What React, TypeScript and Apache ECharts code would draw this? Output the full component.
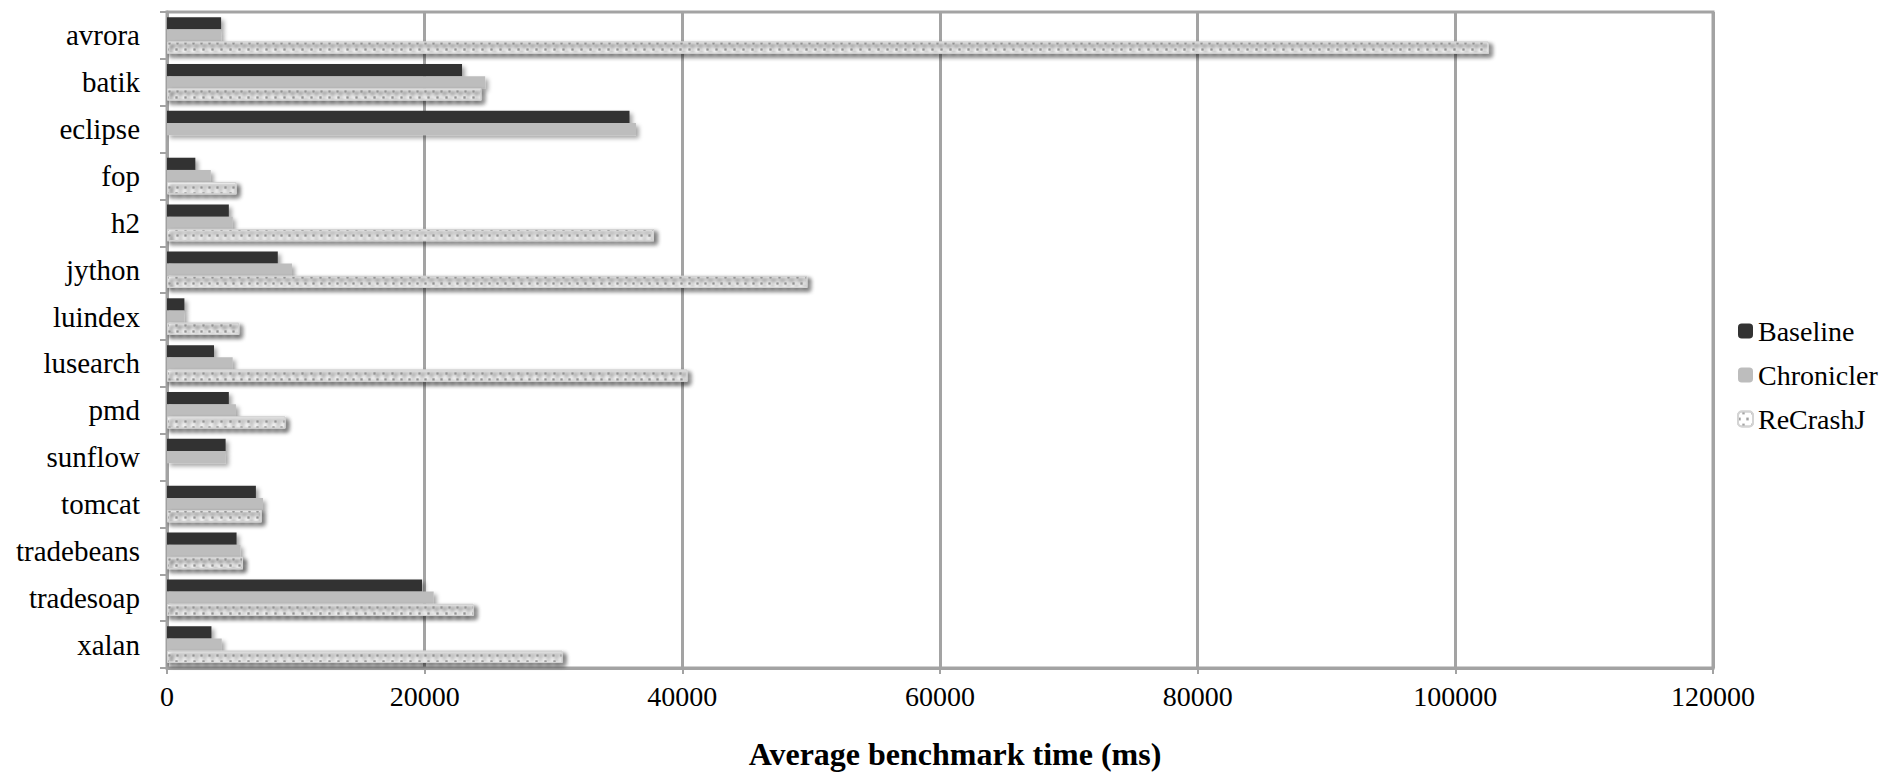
import React, { useEffect, useRef } from "react";
import * as echarts from "echarts";

const categories = [
  "avrora", "batik", "eclipse", "fop", "h2", "jython", "luindex",
  "lusearch", "pmd", "sunflow", "tomcat", "tradebeans", "tradesoap", "xalan",
];
const baseline = [4200, 22900, 35900, 2200, 4800, 8600, 1350, 3650, 4800, 4550, 6900, 5400, 19800, 3450];
const chronicler = [4200, 24700, 36400, 3400, 5100, 9700, 1350, 5100, 5350, 4550, 7450, 5700, 20700, 4250];
const recrashj = [102600, 24400, null, 5400, 37800, 49700, 5600, 40400, 9200, null, 7350, 5900, 23800, 30700];
const seriesNames = ["Baseline", "Chronicler", "ReCrashJ"];
const xTicks = { min: 0, max: 120000, interval: 20000 };

const FONT = "'Liberation Serif', 'Times New Roman', serif";
const GRID_COLOR = "#a3a3a3";

export default function App() {
  const ref = useRef<HTMLDivElement>(null);
  useEffect(() => {
    if (!ref.current) return;
    const chart = echarts.init(ref.current, undefined, { renderer: "svg" });
    const shadow = {
      shadowColor: "rgba(0,0,0,0.35)",
      shadowBlur: 4,
      shadowOffsetX: 3,
      shadowOffsetY: 3,
    };
    chart.setOption({
      animation: false,
      backgroundColor: "#ffffff",
      grid: {
        left: 167,
        right: 182,
        top: 12,
        bottom: 100,
        show: true,
        borderColor: GRID_COLOR,
        borderWidth: 3,
      },
      legend: {
        orient: "vertical",
        left: 1737,
        top: 317,
        itemWidth: 15,
        itemHeight: 15,
        itemGap: 16,
        padding: 0,
        data: seriesNames,
        textStyle: { fontFamily: FONT, fontSize: 28, color: "#000" },
      },
      xAxis: {
        type: "value",
        min: xTicks.min,
        max: xTicks.max,
        interval: xTicks.interval,
        axisLine: { show: true, lineStyle: { color: GRID_COLOR, width: 3 } },
        axisTick: { show: true, length: 6, lineStyle: { color: GRID_COLOR, width: 2 } },
        axisLabel: {
          fontFamily: FONT,
          fontSize: 28,
          color: "#000",
          margin: 14,
          formatter: (v: number) => String(v),
        },
        splitLine: { show: true, lineStyle: { color: GRID_COLOR, width: 3 } },
        name: "Average benchmark time (ms)",
        nameLocation: "middle",
        nameGap: 70,
        nameTextStyle: {
          fontFamily: FONT,
          fontSize: 32,
          fontWeight: "bold",
          color: "#000",
          padding: [0, 0, 0, 30],
        },
      },
      yAxis: {
        type: "category",
        data: categories,
        inverse: true,
        axisLine: { show: true, lineStyle: { color: GRID_COLOR, width: 3 } },
        axisTick: { show: true, length: 7, lineStyle: { color: GRID_COLOR, width: 2 } },
        axisLabel: { fontFamily: FONT, fontSize: 29, color: "#000", margin: 27 },
        splitLine: { show: false },
      },
      series: [
        {
          name: seriesNames[0],
          type: "bar",
          data: baseline,
          barGap: "0%",
          barCategoryGap: "22%",
          itemStyle: { color: "#333333", ...shadow },
        },
        {
          name: seriesNames[1],
          type: "bar",
          data: chronicler,
          barGap: "0%",
          barCategoryGap: "22%",
          itemStyle: { color: "#bdbdbd", ...shadow },
        },
        {
          name: seriesNames[2],
          type: "bar",
          data: recrashj,
          barGap: "0%",
          barCategoryGap: "22%",
          itemStyle: {
            color: "#ffffff",
            borderColor: "#d4d4d4",
            borderWidth: 1,
            ...shadow,
            decal: {
              symbol: "rect",
              symbolSize: 0.8,
              color: "#939393",
              dashArrayX: [[2.5, 5], [0, 3.75, 2.5, 1.25]],
              dashArrayY: [3, 2.5],
              rotation: 0,
            },
          },
        },
      ],
    });
    return () => chart.dispose();
  }, []);
  return (
    <div
      ref={ref}
      style={{ position: "fixed", left: 0, top: 0, width: 1895, height: 775, background: "#fff" }}
    />
  );
}
